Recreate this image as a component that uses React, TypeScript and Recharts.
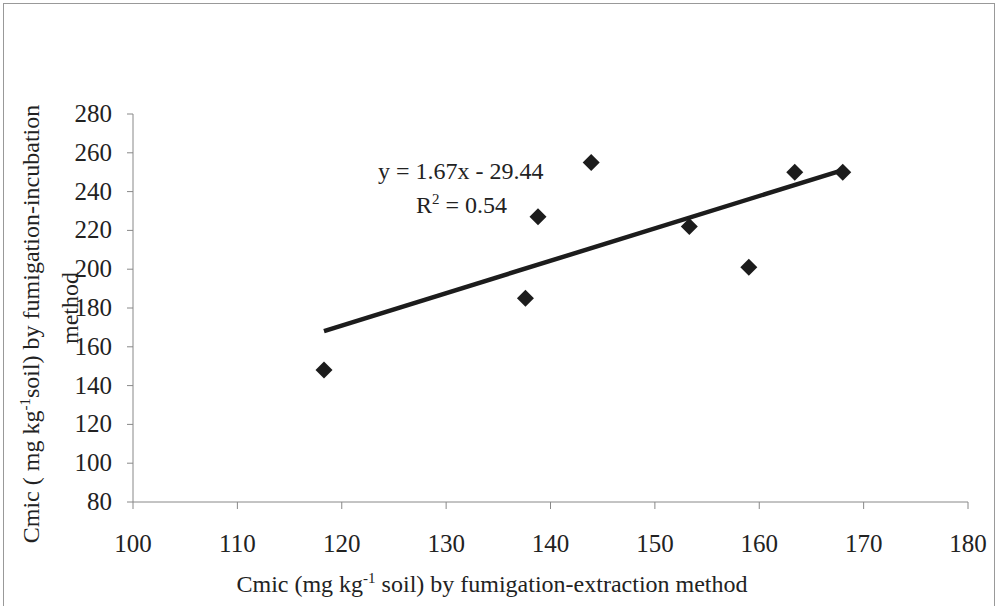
// Cmic scatter — fumigation-extraction vs fumigation-incubation, with linear trend
import { ScatterChart, Scatter, XAxis, YAxis, ReferenceLine } from "recharts";

const extractionVals = [118.3, 137.6, 138.8, 143.9, 153.3, 159.0, 163.4, 168.0];
const incubationVals = [148, 185, 227, 255, 222, 201, 250, 250];
const trendX = [118.3, 168.0];
const trendY = [168.1, 251.1];
const xTicks = [100, 110, 120, 130, 140, 150, 160, 170, 180];
const yTicks = [80, 100, 120, 140, 160, 180, 200, 220, 240, 260, 280];

const points = extractionVals.map((x, i) => ({ x, y: incubationVals[i] }));
const FONT = "Liberation Serif, Times New Roman, serif";
const INK = "#1c1c1c";

function Diamond(props: any) {
  const { cx, cy } = props;
  const r = 8.5;
  return <polygon points={`${cx},${cy - r} ${cx + r},${cy} ${cx},${cy + r} ${cx - r},${cy}`} fill={INK} />;
}

function XTick(props: any) {
  const { x, y, payload } = props;
  return (
    <g transform={`translate(${x},${y})`}>
      <text x={0} y={0} dy={41} textAnchor="middle" fontFamily="Liberation Serif" fontSize={25} fill="#222">
        {payload.value}
      </text>
    </g>
  );
}

function YTick(props: any) {
  const { x, y, payload } = props;
  return (
    <g transform={`translate(${x},${y})`}>
      <text x={-13} y={0} dy={8} textAnchor="end" fontFamily="Liberation Serif" fontSize={25} fill="#222">
        {payload.value}
      </text>
    </g>
  );
}

export default function App() {
  const title = { fontSize: 24, color: "#222", whiteSpace: "nowrap" as const };
  return (
    <div style={{ position: "absolute", left: 0, top: 0, width: 996, height: 606, background: "#fff", overflow: "hidden", fontFamily: FONT }}>
      {/* scanned page frame */}
      <div style={{ position: "absolute", left: 3, top: 3, width: 990, height: 610, border: "1px solid #999" }} />
      <ScatterChart width={996} height={606} margin={{ top: 114, right: 28, bottom: 64, left: 73 }}>
        <XAxis type="number" dataKey="x" domain={[100, 180]} ticks={xTicks} interval={0}
          stroke="#888" tickSize={7} tickMargin={2} tick={XTick} height={40} />
        <YAxis type="number" dataKey="y" domain={[80, 280]} ticks={yTicks} interval={0}
          stroke="#888" tickSize={6} tickMargin={2} tick={YTick} width={60} />
        <ReferenceLine segment={[{ x: trendX[0], y: trendY[0] }, { x: trendX[1], y: trendY[1] }]}
          stroke={INK} strokeWidth={4.5} ifOverflow="visible" />
        <Scatter data={points} fill={INK} shape={<Diamond />} isAnimationActive={false} />
      </ScatterChart>

      {/* trend equation */}
      <div style={{ position: "absolute", left: 378, top: 158, ...title }}>
        y = 1.67x - 29.44
      </div>
      <div style={{ position: "absolute", left: 416, top: 191, ...title }}>
        R<sup style={{ fontSize: 15 }}>2</sup> = 0.54
      </div>

      {/* y axis title, two lines */}
      <div style={{ position: "absolute", left: 31, top: 324, width: 0, height: 0 }}>
        <div style={{ position: "absolute", transform: "translate(-50%, -50%) rotate(-90deg)", ...title }}>
          Cmic ( mg kg<sup style={{ fontSize: 15 }}>-1</sup>soil) by fumigation-incubation
        </div>
      </div>
      <div style={{ position: "absolute", left: 70, top: 308, width: 0, height: 0 }}>
        <div style={{ position: "absolute", transform: "translate(-50%, -50%) rotate(-90deg)", ...title }}>
          method
        </div>
      </div>

      {/* x axis title */}
      <div style={{ position: "absolute", left: 492, top: 584, width: 0, height: 0 }}>
        <div style={{ position: "absolute", transform: "translate(-50%, -50%)", ...title }}>
          Cmic (mg kg<sup style={{ fontSize: 15 }}>-1</sup> soil) by fumigation-extraction method
        </div>
      </div>
    </div>
  );
}
